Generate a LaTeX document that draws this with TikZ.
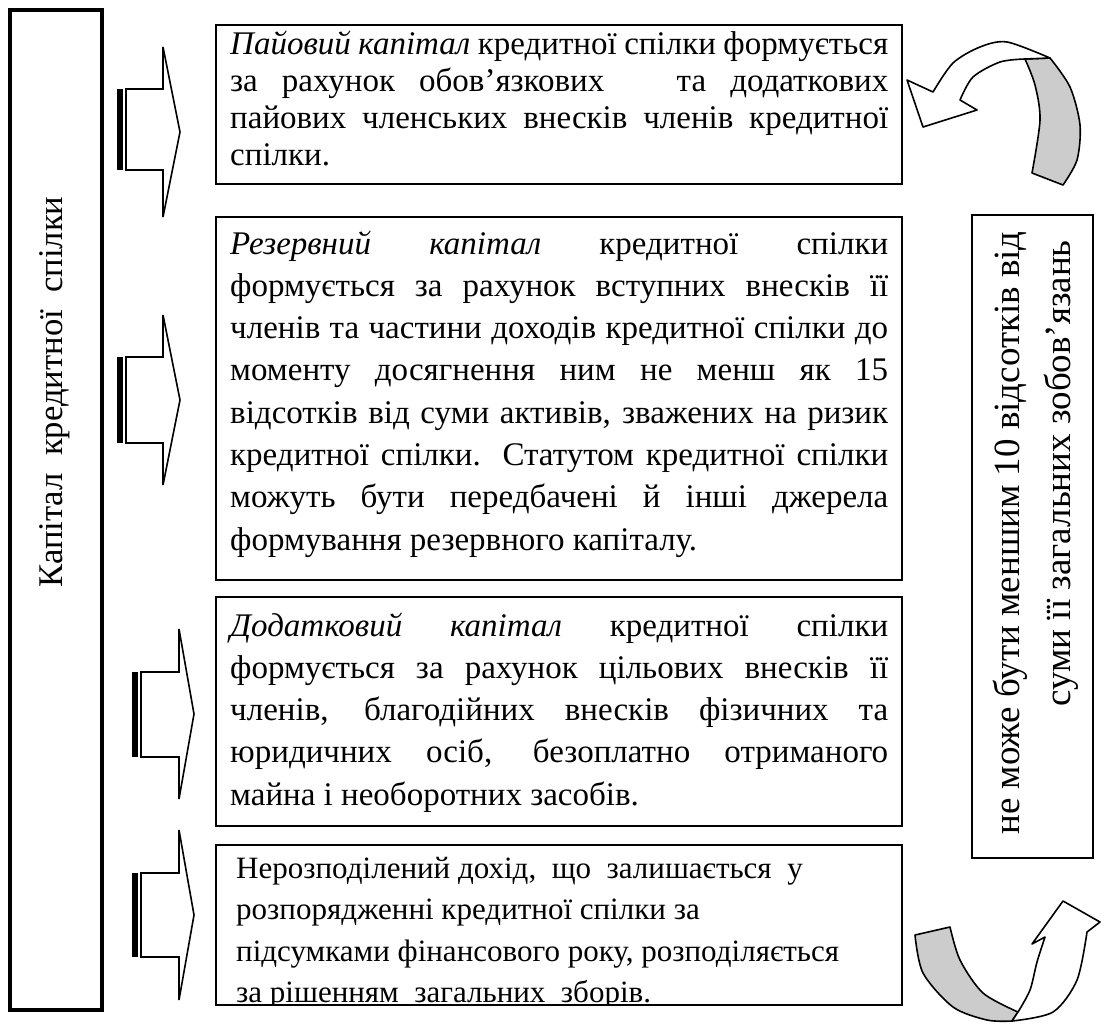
\documentclass[tikz,border=0pt]{standalone}
\usepackage{fontspec}
\newfontfamily\fa{Liberation Serif}
\newcommand\jline[1]{\makebox[\linewidth][s]{#1}}
\begin{document}
\begin{tikzpicture}[x=1pt,y=-1pt,
  box/.style={draw, line width=2pt},
  barrow/.style={draw, line width=1.6pt, fill=white, line join=miter},
  curv/.style={draw, line width=1.6pt, line join=round},
  txt/.style={anchor=base west, inner sep=0pt, font=\fontsize{33}{42.3}\selectfont\fa},
  rtxt/.style={rotate=90, inner sep=0pt, font=\fontsize{33}{40}\selectfont\fa}]
\useasboundingbox (0,0) rectangle (1102,1023);

% left tall box
\draw[line width=4.5pt] (10,10) rectangle (102,1010);
\node[rtxt] (ltxt) at (55,392) {\scalebox{1.05}{Капітал\ \ кредитної\ \ спілки}};

% right box
\draw[box] (972,215) rectangle (1093,858);
\node[rtxt] (r1) at (1010,533) {\scalebox{1.12}{не може бути меншим 10 відсотків від}};
\node[rtxt, anchor=base east] (r2) at (1070,240) {\scalebox{1.12}{суми її загальних зобов’язань}};

% boxes
\draw[box] (216,25) rectangle (902,184);
\draw[box] (216,217) rectangle (902,580);
\draw[box] (216,597) rectangle (902,826);

\node[txt, font=\fontsize{33}{37}\selectfont\fa] (t1) at (230,54) {\parbox[t]{658pt}{%
\jline{{\itshape Пайовий капітал} кредитної спілки формується}\\
\jline{за рахунок обов’язкових \ \ та додаткових}\\
\jline{пайових членських внесків членів кредитної}\\
спілки.}};

\node[txt] (t2) at (230,254) {\parbox[t]{658pt}{%
\jline{{\itshape Резервний} {\itshape капітал} кредитної спілки}\\
\jline{формується за рахунок вступних внесків її}\\
\jline{членів та частини доходів кредитної спілки до}\\
\jline{моменту досягнення ним не менш як 15}\\
\jline{відсотків від суми активів, зважених на ризик}\\
\jline{кредитної спілки. Статутом кредитної спілки}\\
\jline{можуть бути передбачені й інші джерела}\\
формування резервного капіталу.}};

\node[txt] (t3) at (230,636) {\parbox[t]{658pt}{%
\jline{{\itshape Додатковий} {\itshape капітал} кредитної спілки}\\
\jline{формується за рахунок цільових внесків її}\\
\jline{членів, благодійних внесків фізичних та}\\
\jline{юридичних осіб, безоплатно отриманого}\\
майна і необоротних засобів.}};

\begin{scope}
\clip (217,846) rectangle (901,1004);
\node[txt, font=\fontsize{33}{44.2}\selectfont\fa] (t4) at (236,878) {\scalebox{0.94}{\parbox[t]{700pt}{\raggedright
Нерозподілений дохід,\ \ що\ \ залишається\ \ у\\
розпорядженні кредитної спілки за\\
підсумками фінансового року, розподіляється\\
за рішенням\ \ загальних\ \ зборів.}}};
\end{scope}
\draw[box] (216,845) rectangle (902,1005);

% striped block arrows
\fill (117,89) rectangle (123,170);
\draw[barrow] (126,89) -- (163,89) -- (163,47) -- (180,132) -- (163,217) -- (163,170) -- (126,170) -- cycle;

\fill (117,357) rectangle (123,443);
\draw[barrow] (126,357) -- (163,357) -- (163,315) -- (180,400) -- (163,485) -- (163,443) -- (126,443) -- cycle;

\fill (132,672) rectangle (138,757);
\draw[barrow] (141,672) -- (179,672) -- (179,629) -- (194,714) -- (179,799) -- (179,757) -- (141,757) -- cycle;

\fill (132,873) rectangle (138,957);
\draw[barrow] (141,873) -- (179,873) -- (179,830) -- (194,915) -- (179,1000) -- (179,957) -- (141,957) -- cycle;

% top curved arrow
\filldraw[curv, fill=gray!40] (1025,59) -- plot[smooth] coordinates {(1025,59) (1035,85) (1040,120) (1032,173)} -- (1063,185) -- plot[smooth] coordinates {(1063,185) (1077,160) (1080,125) (1070,87) (1050,58)} -- cycle;
\filldraw[curv, fill=white] (933,92) -- plot[smooth] coordinates {(933,92) (953,63) (980,47) (1007,42) (1050,58)} -- (1025,59) -- plot[smooth] coordinates {(1025,59) (1000,62) (973,77) (960,100)} -- (977,110) -- (923,127) -- (907,80) -- cycle;

% bottom curved arrow
\filldraw[curv, fill=gray!40] (915,935) -- (950,927) -- plot[smooth] coordinates {(950,927) (960,960) (983,993) (1018,1012)} -- (1012,1021) -- plot[smooth] coordinates {(1012,1021) (987,1020) (953,1007) (923,973) (915,935)} -- cycle;
\filldraw[curv, fill=white] (1012,1021) -- plot[smooth] coordinates {(1012,1021) (1053,1012) (1077,980) (1087,932)} -- (1100,922) -- (1063,901) -- (1032,944) -- (1045,937) -- plot[smooth] coordinates {(1045,937) (1037,962) (1030,990) (1018,1012)} -- cycle;
\end{tikzpicture}
\end{document}
